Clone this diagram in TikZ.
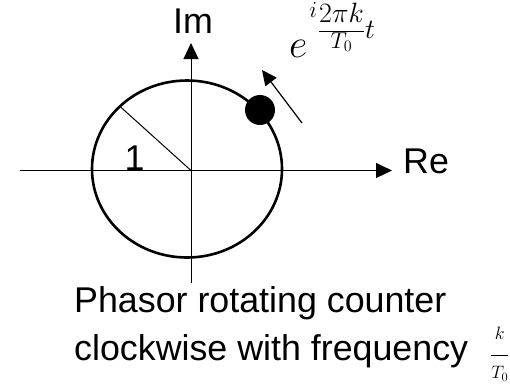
\RequirePackage{fix-cm}
\documentclass[tikz,border=0pt]{standalone}
\usepackage{amsmath}
\usepackage[no-math]{fontspec}
\setmainfont{Liberation Sans}
\usetikzlibrary{arrows.meta, positioning}

\begin{document}
\begin{tikzpicture}[x=1pt, y=-1pt,
    axis/.style={line width=1pt, -{Triangle[length=16pt, width=15pt]}},
    unitcircle/.style={line width=2.6pt},
    lbl/.style={inner sep=0pt, font=\fontsize{35.8}{42}\selectfont}]
  \useasboundingbox (0,0) rectangle (510,389);
  % axes
  \coordinate (o) at (191,170.5);
  \coordinate (reL) at (20,170.5);
  \coordinate (reR) at (392,170.5);
  \coordinate (imB) at (191,283);
  \coordinate (imT) at (191,43);
  \draw[axis] (reL) -- (reR);
  \draw[axis] (imB) -- (imT);
  \node[lbl, anchor=base] (im) at (193,33) {Im};
  \node[lbl, anchor=base west] (re) at (403,173) {Re};
  % unit circle and radius
  \draw[unitcircle] (187,169) ellipse [x radius=95pt, y radius=88.5pt];
  \coordinate (rim) at (119.5,106);
  \draw[line width=1pt] (o) -- (rim);
  \node[lbl, anchor=base] (one) at (134.5,170) {1};
  % phasor and direction of rotation
  \node[circle, fill=black, inner sep=0pt, minimum size=30pt] (dot) at (260,110) {};
  \coordinate (arS) at (302,123);
  \coordinate (arE) at (262,70);
  \draw[line width=1.2pt, -{Triangle[length=15pt, width=14pt]}] (arS) -- (arE);
  \node[inner sep=0pt, anchor=base west, font=\fontsize{40}{40}\selectfont] (expo) at (289,57)
    {$e$\hspace{2pt}\raisebox{40pt}{\fontsize{23}{23}\selectfont$i$}\hspace{1pt}%
     \raisebox{19pt}{\fontsize{28}{28}\selectfont
       $\frac{\raisebox{4pt}{$\displaystyle 2\pi k$}}%
       {\mbox{\fontsize{23}{23}\selectfont$T_0$}}t$}};
  % caption
  \node[lbl, anchor=base west] (cap1) at (74,312) {Phasor rotating counter};
  \node[lbl, anchor=base west] (cap2) at (74,360)
    {clockwise with frequency\hspace{22pt}{\fontsize{18}{18}\selectfont
     $\dfrac{\raisebox{8pt}{$k$}}{\rule{0pt}{21pt}T_0}$}};
\end{tikzpicture}
\end{document}
